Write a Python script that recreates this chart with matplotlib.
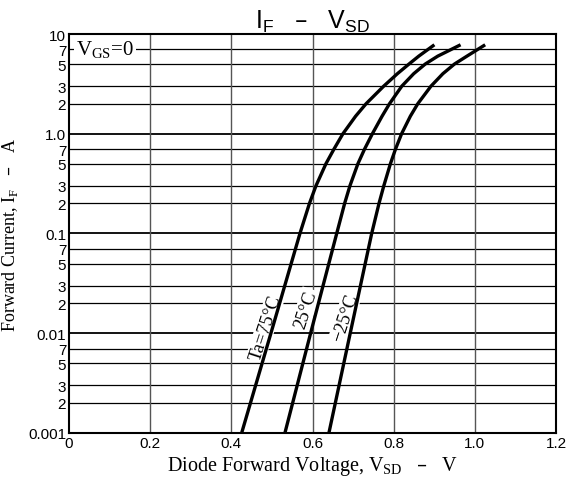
import matplotlib.pyplot as plt
import numpy as np

# forward current (A) and diode voltage (V) read per temperature
current_75 = [0.001, 0.01, 0.1, 0.2, 0.3, 0.5, 0.7, 1.0, 1.5, 2.0, 3.0, 4.0, 5.0, 6.0, 7.8]
vsd_75 = [0.4254, 0.4975, 0.5690, 0.5924, 0.6084, 0.6330, 0.6527, 0.6749,
          0.7062, 0.7320, 0.7754, 0.8091, 0.8377, 0.8618, 0.9003]

current_25 = [0.001, 0.01, 0.1, 0.2, 0.3, 0.5, 0.7, 1.0, 1.5, 2.0, 3.0, 4.0, 5.0, 6.0, 7.8]
vsd_25 = [0.5320, 0.5953, 0.6596, 0.6791, 0.6921, 0.7118, 0.7281, 0.7475,
          0.7714, 0.7897, 0.8200, 0.8493, 0.8778, 0.9086, 0.9648]

current_m25 = [0.001, 0.01, 0.1, 0.2, 0.3, 0.5, 0.7, 1.0, 1.5, 2.0, 3.0, 4.0, 5.0, 6.0, 7.8]
vsd_m25 = [0.6404, 0.6929, 0.7458, 0.7638, 0.7756, 0.7919, 0.8044, 0.8195,
           0.8411, 0.8594, 0.8919, 0.9212, 0.9498, 0.9805, 1.0254]

x_ticks = [0, 0.2, 0.4, 0.6, 0.8, 1.0, 1.2]
x_tick_labels = ["0", "0.2", "0.4", "0.6", "0.8", "1.0", "1.2"]
y_ticks = [0.001, 0.002, 0.003, 0.005, 0.007,
           0.01, 0.02, 0.03, 0.05, 0.07,
           0.1, 0.2, 0.3, 0.5, 0.7,
           1.0, 2, 3, 5, 7, 10]
y_tick_labels = ["0.001", "2", "3", "5", "7",
                 "0.01", "2", "3", "5", "7",
                 "0.1", "2", "3", "5", "7",
                 "1.0", "2", "3", "5", "7", "10"]

serif = ["Liberation Serif", "DejaVu Serif"]
sans = ["Liberation Sans Narrow", "Liberation Sans", "DejaVu Sans"]

fig = plt.figure(figsize=(5.79, 4.85), dpi=100)
ax = fig.add_axes([0.1192, 0.1052, 0.8411, 0.8226])
ax.set_yscale("log")
ax.set_xlim(0, 1.2)
ax.set_ylim(0.001, 10)

# grid
for y in y_ticks[1:-1]:
    major = y in (0.01, 0.1, 1.0)
    ax.axhline(y, color="black", lw=1.3 if major else 0.9, zorder=1)
for x in x_ticks[1:-1]:
    ax.axvline(x, color="#555555", lw=1.0, zorder=1)

for v, i in [(vsd_75, current_75), (vsd_25, current_25), (vsd_m25, current_m25)]:
    ax.plot(v, i, color="black", lw=2.4, solid_capstyle="butt",
            solid_joinstyle="round", zorder=3)

ax.set_xticks(x_ticks)
ax.set_xticklabels(x_tick_labels, family=sans, fontsize=11)
ax.set_yticks(y_ticks)
ax.set_yticklabels(y_tick_labels, family=sans, fontsize=11)
ax.minorticks_off()
ax.tick_params(length=0, pad=2)
for s in ax.spines.values():
    s.set_linewidth(1.5)

# curve labels
box = dict(facecolor="white", edgecolor="none", pad=1)
ax.text(0.484, 0.0115, "Ta=75°C", rotation=72, ha="center", va="center",
        family=serif, fontsize=13.5, bbox=box, zorder=2)
ax.text(0.583, 0.0175, "25°C", rotation=72, ha="center", va="center",
        family=serif, fontsize=13.5, bbox=box, zorder=2)
ax.text(0.680, 0.0145, "\u221225°C", rotation=72, ha="center", va="center",
        family=serif, fontsize=13.5, bbox=box, zorder=2)

ax.text(0.018, 7.0, "V$_{\\mathregular{GS}}$=0", ha="left", va="center",
        family=serif, fontsize=15, bbox=dict(facecolor="white", edgecolor="none", pad=1.5),
        zorder=2)

ax.set_xlabel("Diode Forward Voltage, V$_{\\mathregular{SD}}$   \u2013   V",
              family=serif, fontsize=14.5, labelpad=3)
ax.set_ylabel("Forward Current, I$_{\\mathregular{F}}$   \u2013   A",
              family=serif, fontsize=13, labelpad=6)
ax.set_title("I$_{\\mathregular{F}}$   \u2013   V$_{\\mathregular{SD}}$",
             family=["Liberation Sans", "DejaVu Sans"], fontsize=18, pad=4)

fig.savefig("out.png", dpi=100)
